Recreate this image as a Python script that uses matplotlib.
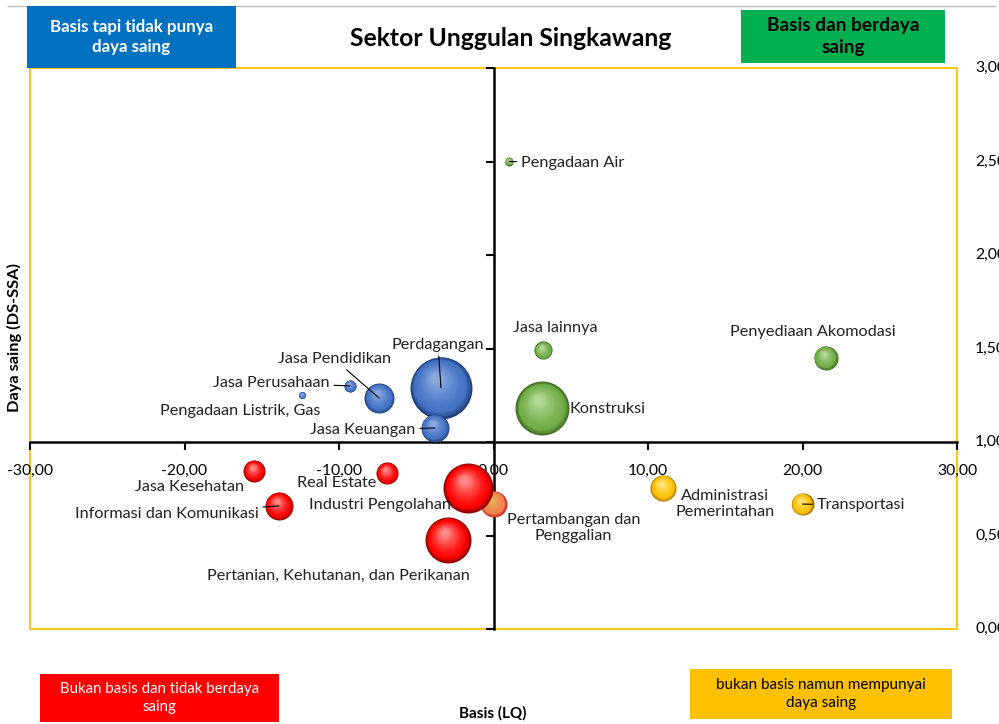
import matplotlib
matplotlib.use("Agg")
import matplotlib.pyplot as plt
import numpy as np
from matplotlib.transforms import ScaledTranslation, blended_transform_factory
from matplotlib.patches import Rectangle
from matplotlib.ticker import FuncFormatter
from matplotlib.colors import to_rgb

plt.rcParams['font.family'] = ['Lato', 'DejaVu Sans']

# ---------------- data ----------------
sectors = ["Pengadaan Air", "Jasa lainnya", "Penyediaan Akomodasi", "Konstruksi",
           "Perdagangan", "Jasa Pendidikan", "Jasa Perusahaan", "Pengadaan Listrik, Gas",
           "Jasa Keuangan",
           "Pertambangan dan\nPenggalian",
           "Jasa Kesehatan", "Real Estate", "Informasi dan Komunikasi",
           "Industri Pengolahan", "Pertanian, Kehutanan, dan Perikanan",
           "Administrasi\nPemerintahan", "Transportasi"]
lq = [1.0, 3.2, 21.5, 3.15,
      -3.4, -7.4, -9.3, -12.4,
      -3.8,
      0.0,
      -15.5, -6.9, -13.9,
      -1.65, -2.95,
      11.0, 20.0]
ds = [2.50, 1.49, 1.45, 1.18,
      1.29, 1.235, 1.30, 1.25,
      1.075,
      0.67,
      0.845, 0.834, 0.658,
      0.754, 0.476,
      0.754, 0.668]
bubble = [1.6, 8.1, 14.4, 72.9,
          96.1, 22.5, 3.6, 1.2,
          19.6,
          16.9,
          12.1, 12.1, 19.6,
          62.5, 52.9,
          16.9, 12.1]
group = ["green", "green", "green", "green",
         "blue", "blue", "blue", "blue",
         "blue",
         "orange",
         "red", "red", "red",
         "red", "red",
         "yellow", "yellow"]
x_ticks = [-30, -20, -10, 0, 10, 20, 30]
y_ticks = [0.0, 0.5, 1.0, 1.5, 2.0, 2.5, 3.0]

# label offsets in px (dx right, dy down), alignment, leader line
label_style = {
    "Pengadaan Air": (12, 1, "left", True),
    "Jasa lainnya": (12, -22, "center", False),
    "Penyediaan Akomodasi": (-13, -26, "center", False),
    "Konstruksi": (27, 1, "left", False),
    "Perdagangan": (-3, -43, "center", True),
    "Jasa Pendidikan": (-45, -39, "center", True),
    "Jasa Perusahaan": (-20, -3, "right", True),
    "Pengadaan Listrik, Gas": (18, 16, "right", False),
    "Jasa Keuangan": (-19, 2, "right", True),
    "Pertambangan dan\nPenggalian": (80, 24, "center", False),
    "Jasa Kesehatan": (-10, 16, "right", False),
    "Real Estate": (-11, 10, "right", False),
    "Informasi dan Komunikasi": (-20, 8, "right", True),
    "Industri Pengolahan": (-17, 17, "right", False),
    "Pertanian, Kehutanan, dan Perikanan": (-109, 36, "center", False),
    "Administrasi\nPemerintahan": (62, 16, "center", False),
    "Transportasi": (14, 1, "left", True),
}

palette = {
    "green": ("#3E6B1F", "#70AD47", "#C5E3AE"),
    "blue": ("#1F3F7A", "#4472C4", "#9DB8E8"),
    "red": ("#8B0000", "#FF0000", "#FFB0B0"),
    "yellow": ("#9C7200", "#FFC000", "#FFF0A0"),
    "orange": ("#D03020", "#F08050", "#E8C060"),
}

W, H = 999, 724
fig = plt.figure(figsize=(W / 100, H / 100), dpi=100)
L, R, T, B = 30, 957, 68, 629
ax = fig.add_axes([L / W, 1 - B / H, (R - L) / W, (B - T) / H])
ax.set_xlim(-30, 30)
ax.set_ylim(0, 3)
ax.set_facecolor("none")

# yellow plot-area border
ax.add_patch(Rectangle((0, 0), 1, 1, transform=ax.transAxes, fill=False,
                       edgecolor="#FFC000", lw=1.3, clip_on=False, zorder=0.5))

for s in ["top", "right"]:
    ax.spines[s].set_visible(False)
ax.spines["bottom"].set_position(("data", 1.0))
ax.spines["left"].set_position(("data", 0.0))
for s in ["bottom", "left"]:
    ax.spines[s].set_color("black")
    ax.spines[s].set_linewidth(1.8)
    ax.spines[s].set_zorder(1)

ax.set_xticks(x_ticks)
ax.set_yticks(y_ticks)
fmt = FuncFormatter(lambda v, p: f"{v:.2f}".replace(".", ",").replace("-0,00", "0,00"))
ax.xaxis.set_major_formatter(fmt)
ax.tick_params(axis="x", direction="out", length=6, width=1.5, labelsize=11.3, pad=10,
               colors="black")
ax.tick_params(axis="y", direction="out", length=6, width=1.5, labelleft=False)

# y labels at the far right
tr = blended_transform_factory(fig.transFigure, ax.transData)
for v in y_ticks:
    ax.text(975 / W, v, f"{v:.2f}".replace(".", ","), transform=tr, ha="left",
            va="center", fontsize=11.3, clip_on=False)


def shaded_bubble(x, y, s, g, z):
    dark, mid, light = [np.array(to_rgb(c)) for c in palette[g]]
    r_pt = np.sqrt(s) / 2
    n = 28
    for i in range(n):
        k = 1 - i / n * 0.88
        t = 1 - k
        if t < 0.15:
            col = dark + (mid - dark) * (t / 0.15)
        else:
            col = mid + (light - mid) * ((t - 0.15) / 0.85) ** 1.3
        col = np.clip(col, 0, 1)
        dx = -0.18 * r_pt * t
        dy = 0.38 * r_pt * t
        trans = ax.transData + ScaledTranslation(dx / 72, dy / 72, fig.dpi_scale_trans)
        ax.scatter([x], [y], s=s * k ** 2, color=[col], linewidths=0,
                   transform=trans, zorder=z, clip_on=False)


SCALE = 20.7
for i, name in enumerate(sectors):
    shaded_bubble(lq[i], ds[i], bubble[i] * SCALE, group[i], 3 + i * 0.01)

for i, name in enumerate(sectors):
    dxp, dyp, ha, leader = label_style[name]
    ap = None
    if leader:
        ap = dict(arrowstyle="-", color="black", lw=0.8, shrinkA=1, shrinkB=0)
    ax.annotate(name, xy=(lq[i], ds[i]), xytext=(dxp * 0.72, -dyp * 0.72),
                textcoords="offset points", ha=ha, va="center", fontsize=11.7,
                multialignment="center", arrowprops=ap, zorder=6, color="#222222",
                linespacing=1.15)

# title
fig.text(511 / W, 1 - 39 / H, "Sektor Unggulan Singkawang", ha="center", va="center",
         fontsize=17.8, fontweight="bold")

# gray top line
fig.add_artist(plt.Line2D([8 / W, 995 / W], [1 - 6 / H, 1 - 6 / H], color="#BFBFBF",
                          lw=1, transform=fig.transFigure))


def box(x0, y0, x1, y1, color, text, tcolor, size, weight):
    fig.add_artist(Rectangle((x0 / W, 1 - y1 / H), (x1 - x0) / W, (y1 - y0) / H,
                             transform=fig.transFigure, facecolor=color, edgecolor="none",
                             zorder=5))
    fig.text((x0 + x1) / 2 / W, 1 - (y0 + y1) / 2 / H, text, ha="center", va="center",
             color=tcolor, fontsize=size, fontweight=weight, zorder=6,
             multialignment="center", linespacing=1.3)


box(27, 6, 236, 68, "#0070C0", "Basis tapi tidak punya\ndaya saing", "white", 12.2, "bold")
box(741, 10, 945, 63, "#00B050", "Basis dan berdaya\nsaing", "black", 13.8, "bold")
box(40, 674, 279, 722, "#FF0000", "Bukan basis dan tidak berdaya\nsaing", "white", 10.8, "normal")
box(690, 669, 952, 719, "#FFC000", "bukan basis namun mempunyai\ndaya saing", "black", 11, "normal")

fig.text(14 / W, 1 - 337 / H, "Daya saing (DS-SSA)", rotation=90, ha="center", va="center",
         fontsize=11.8, fontweight="bold")
fig.text(493 / W, 1 - 713 / H, "Basis (LQ)", ha="center", va="center",
         fontsize=11, fontweight="bold")

fig.savefig("out.png", dpi=100)
